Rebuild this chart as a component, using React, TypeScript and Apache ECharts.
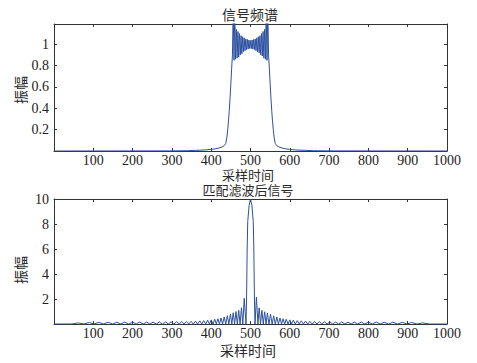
import React, { useEffect, useRef } from "react";
import * as echarts from "echarts";

// Top panel: signal spectrum (sample index, amplitude)
const freqX = [
  0, 300, 340, 360, 385, 400, 410, 420, 428, 433, 437, 440, 442, 444, 446, 448, 450, 452, 454,
  456, 458, 460, 462, 464, 466, 468, 470, 472, 474, 476, 478, 480, 482, 484, 486, 488, 490,
  492, 494, 496, 498, 500, 502, 504, 506, 508, 510, 512, 514, 516, 518, 520, 522, 524, 526,
  528, 530, 532, 534, 536, 538, 540, 542, 544,
  546, 548, 550, 552, 554, 556, 558, 560, 563, 567, 572, 580, 590, 600, 615, 640, 660, 700, 1000,
];
const freqY = [
  0, 0.001, 0.003, 0.006, 0.01, 0.015, 0.02, 0.028, 0.038, 0.05, 0.07, 0.13, 0.2, 0.28, 0.38, 0.5, 0.63, 0.77, 0.9,
  1.3, 0.85, 1.3, 0.86, 1.14, 0.87, 1.12, 0.88, 1.1, 0.9, 1.08, 0.91, 1.07, 0.93, 1.06, 0.94, 1.05, 0.95,
  1.045, 0.955, 1.04, 0.96, 1.035, 0.96, 1.04, 0.955, 1.045, 0.95, 1.05, 0.94, 1.06, 0.93, 1.07, 0.92, 1.08, 0.9,
  1.1, 0.89, 1.12, 0.87, 1.14, 0.86, 1.3, 0.85, 1.3,
  0.9, 0.77, 0.63, 0.5, 0.38, 0.28, 0.2, 0.13, 0.07, 0.05, 0.038, 0.028, 0.02, 0.015, 0.01, 0.006, 0.003, 0.001, 0,
];

// Bottom panel: matched filter output (sample index, amplitude)
const matchX = [
  0, 45, 62, 76, 90, 102, 114, 126, 138, 149, 160, 170, 180, 190, 200, 209, 218, 227, 236, 244,
  252, 260, 268, 276, 284, 291, 298, 305, 312, 318.5, 325, 331, 337, 343, 349, 354.5, 360, 365.5,
  371, 376, 381, 386, 391, 395.5, 400, 404.5, 409, 413, 417, 421, 425, 429, 433, 437, 441, 445,
  449, 452.5, 456, 459.5, 463, 466.5, 470, 473.5, 477, 480.5, 484,
  488.5, 490, 491.5, 493, 496.5, 500, 503.5, 507, 508.5, 510, 511.5,
  515, 519, 522, 525.5, 529, 532.5, 536, 539.5, 543, 547, 551, 555, 559, 563, 567, 571, 575, 579,
  583, 587, 591, 595.5, 600, 604.5, 609, 614, 619, 624, 629, 634.5, 640, 645.5, 651, 657, 663,
  669, 675, 681.5, 688, 695, 702, 709, 716, 724, 732, 740, 748, 756, 764, 773, 782, 791, 800,
  810, 820, 830, 840, 851, 862, 874, 886, 898, 910, 924, 938, 955, 1000,
];
const matchY = [
  0, 0, 0.09, 0, 0.12, 0, 0.13, 0, 0.14, 0, 0.14, 0, 0.15, 0, 0.15, 0, 0.15, 0, 0.15, 0,
  0.15, 0, 0.16, 0, 0.16, 0, 0.17, 0, 0.18, 0, 0.19, 0, 0.2, 0, 0.21, 0, 0.23, 0,
  0.25, 0, 0.27, 0, 0.3, 0, 0.33, 0, 0.38, 0, 0.42, 0, 0.48, 0, 0.56, 0, 0.66, 0,
  0.8, 0, 0.9, 0, 1.0, 0, 1.1, 0, 1.3, 0, 2.05,
  0, 2, 6, 8.2, 9.5, 10, 9.5, 8.2, 6, 2, 0,
  2.15, 0, 1.3, 0, 1.1, 0, 0.98, 0, 0.88, 0, 0.78, 0, 0.66, 0, 0.56, 0, 0.48, 0,
  0.42, 0, 0.38, 0, 0.33, 0, 0.3, 0, 0.27, 0, 0.25, 0, 0.23, 0, 0.21, 0, 0.2,
  0, 0.19, 0, 0.18, 0, 0.17, 0, 0.16, 0, 0.16, 0, 0.15, 0, 0.15, 0, 0.15, 0, 0.15,
  0, 0.15, 0, 0.14, 0, 0.14, 0, 0.13, 0, 0.12, 0, 0.09, 0, 0,
];

const titles = ["信号频谱", "匹配滤波后信号"];
const xName = "采样时间";
const yName = "振幅";

const LINE = "#2c50a0";
const AXIS = "#333";
const NUM_FONT = "Liberation Serif";
const CJK_FONT = "Noto Sans CJK SC";

function xAxes(gridIndex: number) {
  const base = {
    gridIndex,
    type: "value" as const,
    min: 0,
    max: 1000,
    interval: 100,
    splitLine: { show: false },
    axisLine: { show: true, onZero: false, lineStyle: { color: AXIS, width: 1 } },
    axisTick: { show: true, inside: true, length: 3, lineStyle: { color: AXIS } },
  };
  return [
    {
      ...base,
      position: "bottom",
      axisLabel: {
        show: true,
        margin: 2,
        fontFamily: NUM_FONT,
        fontSize: 14,
        lineHeight: 14,
        color: "#222",
        formatter: (v: number) => (v === 0 ? "" : String(v)),
      },
    },
    { ...base, position: "top", axisLabel: { show: false } },
  ];
}

function yAxes(gridIndex: number, max: number, interval: number) {
  const base = {
    gridIndex,
    type: "value" as const,
    min: 0,
    max,
    interval,
    splitLine: { show: false },
    axisLine: { show: true, onZero: false, lineStyle: { color: AXIS, width: 1 } },
    axisTick: { show: true, inside: true, length: 3, lineStyle: { color: AXIS } },
  };
  return [
    {
      ...base,
      position: "left",
      axisLabel: {
        show: true,
        margin: 5,
        fontFamily: NUM_FONT,
        fontSize: 14,
        color: "#222",
        showMaxLabel: interval === 2,
        formatter: (v: number) => {
          if (v <= 1e-9) return "";
          const k = v / interval;
          if (Math.abs(k - Math.round(k)) > 1e-6) return "";
          return String(Math.round(v * 10) / 10);
        },
      },
    },
    { ...base, position: "right", axisLabel: { show: false } },
  ];
}

function label(text: string, x: number, y: number, rotate = false, size = 14) {
  return {
    type: "text",
    x,
    y,
    rotation: rotate ? Math.PI / 2 : 0,
    style: {
      text,
      fontFamily: CJK_FONT,
      fontSize: size,
      lineHeight: size,
      fill: "#2a2a2a",
      align: "center",
      verticalAlign: "middle",
    },
  };
}

export default function App() {
  const ref = useRef<HTMLDivElement>(null);
  useEffect(() => {
    const chart = echarts.init(ref.current!, null, { renderer: "svg" });
    const option = {
      animation: false,
      backgroundColor: "#fff",
      grid: [
        { left: 54, right: 30, top: 24, height: 127 },
        { left: 54, right: 30, top: 199, height: 125 },
      ],
      xAxis: [...xAxes(0), ...xAxes(1)],
      yAxis: [...yAxes(0, 1.19, 0.2), ...yAxes(1, 10, 2)],
      series: [
        {
          type: "line",
          xAxisIndex: 0,
          yAxisIndex: 0,
          data: freqX.map((x, i) => [x, freqY[i]]),
          showSymbol: false,
          symbol: "none",
          clip: true,
          lineStyle: { color: LINE, width: 1 },
        },
        {
          type: "line",
          xAxisIndex: 2,
          yAxisIndex: 2,
          data: matchX.map((x, i) => [x, matchY[i]]),
          showSymbol: false,
          symbol: "none",
          clip: true,
          lineStyle: { color: LINE, width: 1 },
        },
      ],
      graphic: [
        label(titles[0], 250, 14),
        label(xName, 248, 174, false, 13),
        label(titles[1], 248, 189.5, false, 13),
        label(xName, 248, 350),
        label(yName, 20, 90, true),
        label(yName, 20, 270, true),
      ],
    };
    chart.setOption(option as any);
    return () => chart.dispose();
  }, []);
  return (
    <div
      ref={ref}
      style={{ position: "fixed", left: 0, top: 0, width: 477, height: 363, background: "#fff" }}
    />
  );
}
